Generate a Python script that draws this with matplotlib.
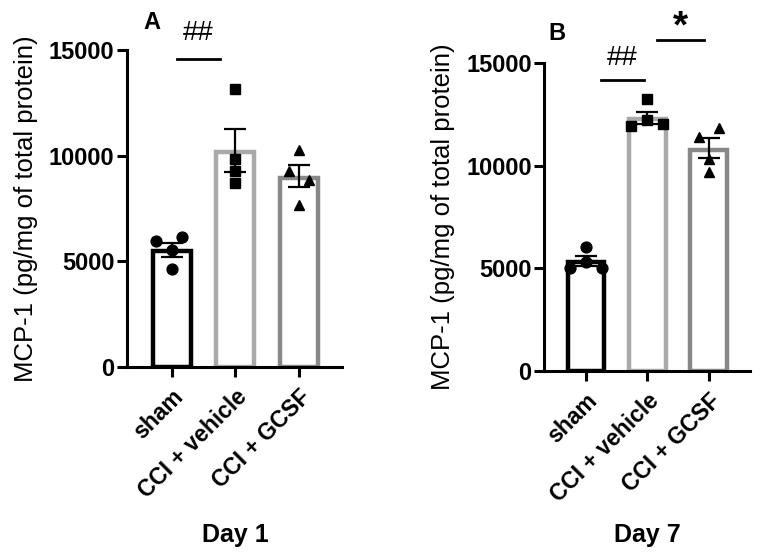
import numpy as np
import matplotlib
matplotlib.use("Agg")
import matplotlib.pyplot as plt

plt.rcParams['font.family'] = ['Liberation Sans', 'DejaVu Sans']

# data
groups = ['sham', 'CCI + vehicle', 'CCI + GCSF']

day1_mean = [5490, 10200, 8960]
day1_sem_hi = [5880, 11250, 9560]
day1_sem_lo = [5220, 9240, 8500]
day1_sham = [5980, 6170, 5540, 4620]
day1_vehicle = [13160, 9830, 9290, 8690]
day1_gcsf = [10270, 9290, 8850, 7670]

day7_mean = [5320, 12270, 10760]
day7_sem_hi = [5620, 12630, 11330]
day7_sem_lo = [5100, 12030, 10360]
day7_sham = [6050, 5320, 5020, 5020]
day7_vehicle = [13230, 12230, 11950, 12010]
day7_gcsf = [11410, 11820, 10330, 9710]

# horizontal scatter of the dots within each group
jit_a = [[-0.25, 0.16, 0.0, 0.0], [0.0, 0.0, 0.0, 0.0], [0.0, -0.16, 0.16, 0.0]]
jit_b = [[0.0, 0.0, -0.26, 0.26], [0.0, 0.0, -0.26, 0.26], [-0.16, 0.16, 0.0, 0.0]]

edge_cols = ['black', '#a9a9a9', '#888888']
markers = ['o', 's', '^']
msizes = [7.8, 6.5, 7.5]


def panel(ax, means, hi, lo, pts, jit, xlim, letter, letter_pos, sig, ylab_x):
    x = np.arange(len(groups))
    ax.bar(x, means, width=0.6, color='white', edgecolor=edge_cols, linewidth=3.2, zorder=2)
    for i in range(len(groups)):
        ax.plot(x[i] + np.array(jit[i]), pts[i], markers[i], color='black',
                ms=msizes[i], zorder=3, clip_on=False)
    yerr = [np.array(means) - np.array(lo), np.array(hi) - np.array(means)]
    ax.errorbar(x, means, yerr=yerr, fmt='none', ecolor='black', elinewidth=1.6,
                capsize=8, capthick=1.6, zorder=4)
    ax.set_ylim(0, 15000)
    ax.set_xlim(*xlim)
    ax.set_yticks([0, 5000, 10000, 15000])
    ax.set_xticks(x)
    ax.set_xticklabels(groups, rotation=45, ha='right', rotation_mode='anchor',
                       fontsize=16.5, fontweight='bold')
    for lab in ax.get_yticklabels():
        lab.set_fontweight('bold')
        lab.set_fontsize(17)
    ax.spines['top'].set_visible(False)
    ax.spines['right'].set_visible(False)
    ax.spines['left'].set_linewidth(2.2)
    ax.spines['bottom'].set_linewidth(2.2)
    ax.tick_params(axis='both', width=2.2, length=7)
    ax.tick_params(axis='y', pad=2)
    ax.tick_params(axis='x', pad=6)
    ax.set_ylabel('MCP-1 (pg/mg of total protein)', fontsize=18.5)
    ax.yaxis.set_label_coords(ylab_x, 0.5)
    ax.text(letter_pos[0], letter_pos[1], letter, transform=ax.get_xaxis_transform(),
            fontsize=17, fontweight='bold', ha='center', va='center')
    for (x0, x1, yv, label, ty, fs) in sig:
        ax.plot([x0, x1], [yv, yv], color='black', lw=2, clip_on=False)
        ax.text((x0 + x1) / 2, ty, label, ha='center', va='center',
                fontsize=fs, fontweight='bold' if label == '*' else 'normal')


fig = plt.figure(figsize=(7.6, 5.57), dpi=100)
ax1 = fig.add_axes([0.167, 0.341, 0.283, 0.569])
ax2 = fig.add_axes([0.716, 0.334, 0.271, 0.553])

panel(ax1, day1_mean, day1_sem_hi, day1_sem_lo,
      [day1_sham, day1_vehicle, day1_gcsf], jit_a, (-0.71, 2.68), 'A', (-0.31, 1.088),
      [(0.08, 0.76, 14580, '##', 15800, 20)], -0.414)
panel(ax2, day7_mean, day7_sem_hi, day7_sem_lo,
      [day7_sham, day7_vehicle, day7_gcsf], jit_b, (-0.68, 2.67), 'B', (-0.47, 1.097),
      [(0.24, 0.94, 14170, '##', 15250, 20),
       (1.16, 1.92, 16100, '*', 16750, 28)], -0.432)

fig.text(235 / 760, 1 - 535 / 557, 'Day 1', fontsize=18, fontweight='bold',
         ha='center', va='center')
fig.text(647 / 760, 1 - 535 / 557, 'Day 7', fontsize=18, fontweight='bold',
         ha='center', va='center')

plt.savefig('out.png', dpi=100)
